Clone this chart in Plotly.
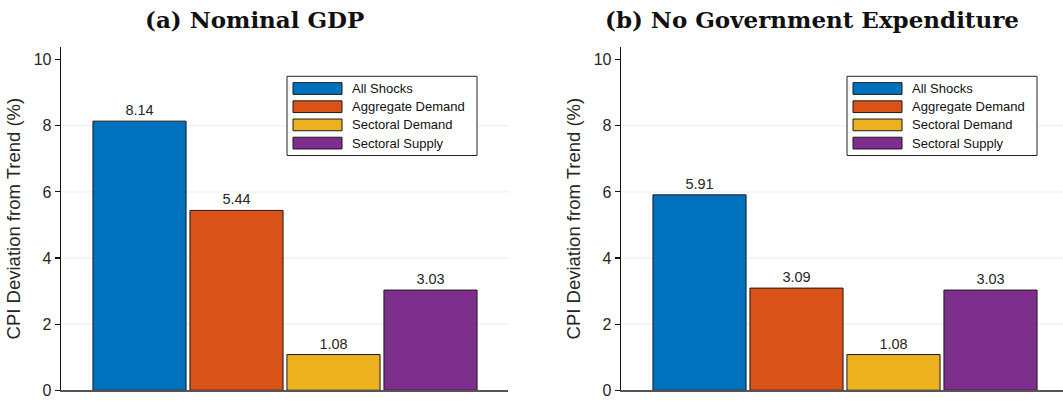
import plotly.graph_objects as go

W, H = 1063, 410

categories = ["All Shocks", "Aggregate Demand", "Sectoral Demand", "Sectoral Supply"]
positions = [1, 2, 3, 4]
values_a = [8.14, 5.44, 1.08, 3.03]
values_b = [5.91, 3.09, 1.08, 3.03]
colors = ["#0072BD", "#D95319", "#EDB120", "#7E2F8E"]
panel_titles = ["(a) Nominal GDP", "(b) No Government Expenditure"]
ytitle = "CPI Deviation from Trend (%)"
ytickvals = [0, 2, 4, 6, 8, 10]
gridvals = [2, 4, 6, 8]


def px_x(p):
    return p / W


def px_y(p):
    return 1 - p / H


fig = go.Figure()

panels = [
    dict(vals=values_a, xa="x", ya="y", left=61, right=508, title_cx=254),
    dict(vals=values_b, xa="x2", ya="y2", left=621, right=1063, title_cx=811.5),
]
unit = 97.0  # px per category

for i, p in enumerate(panels):
    for k in range(4):
        fig.add_trace(go.Bar(
            x=[positions[k]], y=[p["vals"][k]], width=0.96,
            marker=dict(color=colors[k], line=dict(color="#1a1a1a", width=1)),
            text=[f"{p['vals'][k]:.2f}"], textposition="outside",
            textfont=dict(family="Liberation Sans", size=14.5, color="#262626"),
            cliponaxis=False, hoverinfo="skip",
            xaxis=p["xa"], yaxis=p["ya"], showlegend=False, name=categories[k],
        ))

top_px, bot_px = 48, 399
ydom = [px_y(bot_px), px_y(top_px)]
yrange = [0, 10 * (bot_px - top_px) / (bot_px - 61)]

layout_axes = {}
for i, p in enumerate(panels):
    sfx = "" if i == 0 else str(i + 1)
    xmin = positions[0] - 78.5 / unit
    right = min(p["right"], W)
    xmax = xmin + (right - p["left"]) / unit
    layout_axes["xaxis" + sfx] = dict(
        domain=[px_x(p["left"]), px_x(right)], range=[xmin, xmax],
        showticklabels=False, ticks="", showgrid=False, zeroline=False,
        showline=True, linecolor="#555555", linewidth=1.3,
        anchor="y" + sfx, fixedrange=True,
    )
    layout_axes["yaxis" + sfx] = dict(
        domain=ydom, range=yrange, tickvals=ytickvals,
        ticks="outside", ticklen=5, tickcolor="#111111", tickwidth=1.2,
        showgrid=False, zeroline=False,
        showline=True, linecolor="#111111", linewidth=1.3,
        tickfont=dict(family="Liberation Sans", size=16, color="#262626"),
        title=dict(text=ytitle, font=dict(family="Liberation Sans", size=18.5, color="#262626"), standoff=8),
        anchor="x" + sfx, fixedrange=True,
    )

shapes = []
annotations = []
for i, p in enumerate(panels):
    sfx = "" if i == 0 else str(i + 1)
    for g in gridvals:
        shapes.append(dict(type="line", xref=f"x{sfx} domain", yref=f"y{sfx}", x0=0, x1=1, y0=g, y1=g,
                           line=dict(color="#e8eeee", width=1), layer="below"))
    annotations.append(dict(text=f"<b>{panel_titles[i]}</b>", xref="paper", yref="paper",
                            x=px_x(p["title_cx"]), y=px_y(20), xanchor="center", yanchor="middle",
                            showarrow=False,
                            font=dict(family="DejaVu Serif", size=23, color="#111111")))
    # legend box
    lx0 = p["left"] + 226
    lx1 = p["left"] + 416
    shapes.append(dict(type="rect", xref="paper", yref="paper",
                       x0=px_x(lx0), x1=px_x(lx1), y0=px_y(159), y1=px_y(78),
                       line=dict(color="#222222", width=1), fillcolor="white", layer="above"))
    for k in range(4):
        cy = 90.5 + k * 18.6
        shapes.append(dict(type="rect", xref="paper", yref="paper",
                           x0=px_x(p["left"] + 232), x1=px_x(p["left"] + 281),
                           y0=px_y(cy + 6), y1=px_y(cy - 6),
                           line=dict(color="#1a1a1a", width=1), fillcolor=colors[k], layer="above"))
        annotations.append(dict(text=categories[k], xref="paper", yref="paper",
                                x=px_x(p["left"] + 289), y=px_y(cy), xanchor="left", yanchor="middle",
                                showarrow=False,
                                font=dict(family="Liberation Sans", size=13, color="#111111")))

fig.update_layout(
    width=W, height=H, margin=dict(l=0, r=0, t=0, b=0),
    paper_bgcolor="white", plot_bgcolor="white",
    barmode="overlay", showlegend=False, hovermode=False,
    shapes=shapes, annotations=annotations,
    **layout_axes,
)

fig.write_html(
    "out.html",
    config={"displayModeBar": False, "staticPlot": True},
    post_script=(
        "var d=document.getElementById('{plot_id}');"
        "d.style.position='fixed';d.style.top='0';d.style.left='0';"
        "document.body.style.margin='0';document.body.style.overflow='hidden';"
        "document.documentElement.style.overflow='hidden';"
    ),
)
